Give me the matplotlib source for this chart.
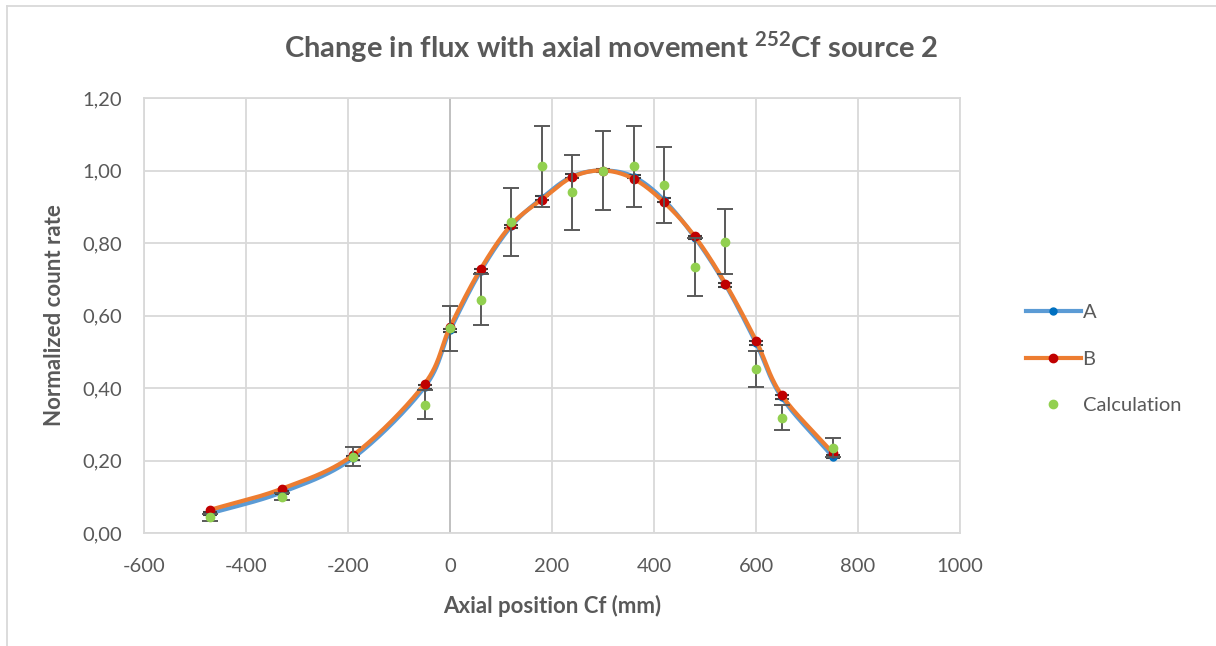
import matplotlib
matplotlib.use("Agg")
import matplotlib.pyplot as plt
from matplotlib.lines import Line2D
import numpy as np

# ---- data ----
positions = [-470, -330, -190, -50, 0, 60, 120, 180, 240, 300, 360, 420, 480, 540, 600, 650, 750]
series_a = [0.054, 0.112, 0.207, 0.402, 0.559, 0.722, 0.846, 0.924, 0.984, 1.000, 0.983, 0.918, 0.815, 0.685, 0.524, 0.375, 0.211]
series_b = [0.064, 0.122, 0.215, 0.411, 0.568, 0.728, 0.850, 0.920, 0.982, 1.000, 0.977, 0.912, 0.818, 0.688, 0.531, 0.381, 0.222]
calculation = [0.043, 0.100, 0.211, 0.354, 0.565, 0.644, 0.858, 1.012, 0.940, 1.000, 1.012, 0.960, 0.734, 0.804, 0.452, 0.318, 0.235]
calc_err = [0.010, 0.010, 0.025, 0.040, 0.062, 0.071, 0.094, 0.112, 0.104, 0.110, 0.112, 0.105, 0.081, 0.089, 0.050, 0.035, 0.026]
a_err = [0.005] * len(positions)
x_ticks = [-600, -400, -200, 0, 200, 400, 600, 800, 1000]
y_ticks = [0.0, 0.2, 0.4, 0.6, 0.8, 1.0, 1.2]

FONT = "Lato"
GRAY = "#595959"
plt.rcParams["font.family"] = [FONT, "DejaVu Sans"]
plt.rcParams["mathtext.fontset"] = "custom"
plt.rcParams["mathtext.rm"] = f"{FONT}:bold"
plt.rcParams["mathtext.bf"] = f"{FONT}:bold"


def smooth(xs, ys, xspan, yspan, n=30):
    """Catmull-Rom curve through the points (rendering of Excel's smoothed line)."""
    xs = np.asarray(xs, float)
    ys = np.asarray(ys, float)
    P = np.column_stack([xs / xspan, ys / yspan])
    P = np.vstack([2 * P[0] - P[1], P, 2 * P[-1] - P[-2]])
    out = []
    t = np.linspace(0, 1, n, endpoint=False)
    for i in range(1, len(P) - 2):
        p0, p1, p2, p3 = P[i - 1], P[i], P[i + 1], P[i + 2]
        a = 0.5 * (2 * p1[:, None] + (-p0 + p2)[:, None] * t
                   + (2 * p0 - 5 * p1 + 4 * p2 - p3)[:, None] * t ** 2
                   + (-p0 + 3 * p1 - 3 * p2 + p3)[:, None] * t ** 3)
        out.append(a.T)
    out.append(P[-2][None, :])
    out = np.vstack(out)
    return out[:, 0] * xspan, out[:, 1] * yspan


fig = plt.figure(figsize=(12.16, 6.46), dpi=100)
ax = fig.add_axes([144 / 1216, 1 - 533 / 646, (960 - 144) / 1216, (533 - 98) / 646])

ax.set_xlim(-600, 1000)
ax.set_ylim(0, 1.2)
ax.set_xticks(x_ticks)
ax.set_yticks(y_ticks)
ax.set_xticklabels([str(v) for v in x_ticks])
ax.set_yticklabels([f"{v:.2f}".replace(".", ",") for v in y_ticks])
ax.tick_params(length=0, labelsize=14.5, labelcolor=GRAY)
ax.tick_params(axis="x", pad=18)
ax.tick_params(axis="y", pad=16)
ax.grid(True, color="#D9D9D9", linewidth=1.3)
ax.set_axisbelow(True)
for s in ax.spines.values():
    s.set_color("#D9D9D9")
    s.set_linewidth(1.3)
ax.axvline(0, color="#BFBFBF", linewidth=1.3, zorder=1)

xspan, yspan = 1600 / 816, 1.2 / 435
xa, ya = smooth(positions, series_a, xspan, yspan)
xb, yb = smooth(positions, series_b, xspan, yspan)

ax.plot(xa, ya, color="#5B9BD5", linewidth=3.0, zorder=3, solid_capstyle="round")
ax.errorbar(positions, series_a, yerr=a_err, fmt="o", color="#0070C0", markersize=5,
            ecolor="#404040", elinewidth=1.2, capsize=5, capthick=1.5, zorder=4)
ax.plot(xb, yb, color="#ED7D31", linewidth=3.0, zorder=5, solid_capstyle="round")
ax.plot(positions, series_b, "o", color="#C00000", markersize=6, zorder=6)
ax.errorbar(positions, calculation, yerr=calc_err, fmt="none", ecolor="#595959",
            elinewidth=1.4, capsize=6, capthick=1.4, zorder=7)
ax.plot(positions, calculation, "o", color="#92D050", markersize=6, zorder=8)

handles = [
    Line2D([], [], color="#5B9BD5", linewidth=3, marker="o", markersize=5,
           markerfacecolor="#0070C0", markeredgecolor="#0070C0"),
    Line2D([], [], color="#ED7D31", linewidth=3, marker="o", markersize=6,
           markerfacecolor="#C00000", markeredgecolor="#C00000"),
    Line2D([], [], linestyle="none", marker="o", markersize=6, color="#92D050"),
]
leg = fig.legend(handles, ["A", "B", "Calculation"], loc="center left",
                 bbox_to_anchor=(1008 / 1216, 1 - 359 / 646), frameon=False,
                 fontsize=14.5, handlelength=2.7, handletextpad=0.1,
                 labelspacing=1.45, labelcolor=GRAY)

ax.set_xlabel("Axial position Cf (mm)", fontsize=16, fontweight="bold", color=GRAY, labelpad=14)
ax.set_ylabel("Normalized count rate", fontsize=16, fontweight="bold", color=GRAY, labelpad=12)

fig.text(611 / 1216, 1 - 47 / 646, r"Change in flux with axial movement $^{252}$Cf source 2",
         ha="center", va="center", fontsize=21, fontweight="bold", color=GRAY)

# chart frame (partially visible)
fig.add_artist(Line2D([7 / 1216, 7 / 1216], [0, 1 - 6 / 646], transform=fig.transFigure,
                      color="#D9D9D9", linewidth=1.3))
fig.add_artist(Line2D([7 / 1216, 1], [1 - 6 / 646, 1 - 6 / 646], transform=fig.transFigure,
                      color="#D9D9D9", linewidth=1.3))

fig.savefig("out.png", dpi=100, facecolor="white")
